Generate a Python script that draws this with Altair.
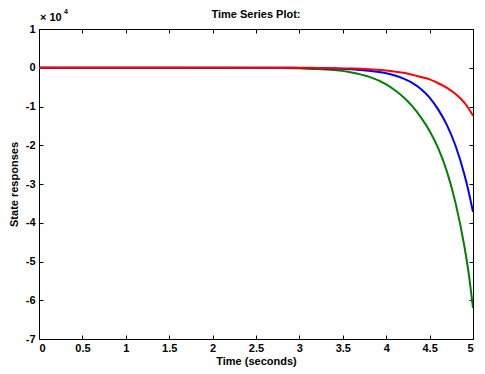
import altair as alt
import pandas as pd

# time points (seconds)
t = [0, 2.8, 3.0, 3.2, 3.4, 3.6, 3.8, 4.0, 4.1, 4.2, 4.3, 4.4, 4.5, 4.6, 4.7, 4.8, 4.9, 4.95, 5.0]
# state responses, in units of 1e4
green = [0, -0.005, -0.015, -0.03, -0.06, -0.12, -0.23, -0.43, -0.58, -0.76, -0.99, -1.28, -1.63, -2.08, -2.68, -3.50, -4.60, -5.30, -6.20]
blue = [0, 0, -0.005, -0.01, -0.02, -0.04, -0.08, -0.14, -0.20, -0.28, -0.39, -0.55, -0.77, -1.08, -1.48, -2.02, -2.75, -3.20, -3.72]
red = [0, 0, 0, -0.005, -0.01, -0.02, -0.04, -0.07, -0.10, -0.13, -0.18, -0.24, -0.30, -0.40, -0.52, -0.68, -0.90, -1.05, -1.24]

x_ticks = [0, 0.5, 1, 1.5, 2, 2.5, 3, 3.5, 4, 4.5, 5]
y_ticks = [1, 0, -1, -2, -3, -4, -5, -6, -7]

series = [("1_green", green), ("2_blue", blue), ("3_red", red)]
rows = []
for name, vals in series:
    for ti, v in zip(t, vals):
        rows.append({"t": ti, "v": v, "s": name})
df = pd.DataFrame(rows)

FONT = "Liberation Sans"
W, H = 434, 310
xs = alt.Scale(domain=[0, 5], nice=False, zero=False)
ys = alt.Scale(domain=[-7, 1], nice=False, zero=False)

lines = alt.Chart(df).mark_line(strokeWidth=2, clip=True, interpolate="monotone").encode(
    x=alt.X("t:Q", scale=xs, axis=alt.Axis(
        orient="bottom", values=x_ticks, offset=-4, tickSize=4, domain=False,
        labelPadding=3, title="Time (seconds)", titlePadding=2,
        labelExpr="'' + datum.value", grid=False)),
    y=alt.Y("v:Q", scale=ys, axis=alt.Axis(
        orient="left", values=y_ticks, offset=-4, tickSize=4, domain=False,
        labelPadding=4, title="State responses", titlePadding=6,
        labelExpr="'' + datum.value", grid=False)),
    color=alt.Color("s:N", scale=alt.Scale(domain=["1_green", "2_blue", "3_red"],
                                           range=["#008000", "#0000ff", "#ff0000"]), legend=None),
)

ticks2 = alt.Chart(df).mark_line(opacity=0).encode(
    x=alt.X("t:Q", scale=xs, axis=alt.Axis(
        orient="top", values=x_ticks, offset=-4, tickSize=4, domain=False,
        labels=False, title=None, grid=False)),
    y=alt.Y("v:Q", scale=ys, axis=alt.Axis(
        orient="right", values=y_ticks, offset=-4, tickSize=4, domain=False,
        labels=False, title=None, grid=False)),
    detail="s:N",
)

title = alt.Chart(pd.DataFrame({"txt": ["Time Series Plot:"]})).mark_text(
    align="center", baseline="middle", font=FONT, fontSize=11, fontWeight="bold", color="black"
).encode(x=alt.value(W / 2), y=alt.value(-14), text="txt:N")

mult = alt.Chart(pd.DataFrame({"txt": ["× 10"]})).mark_text(
    align="left", baseline="alphabetic", font=FONT, fontSize=11, fontWeight="bold", color="black"
).encode(x=alt.value(1), y=alt.value(-8), text="txt:N")

expo = alt.Chart(pd.DataFrame({"txt": ["4"]})).mark_text(
    align="left", baseline="alphabetic", font=FONT, fontSize=7, fontWeight="bold", color="black"
).encode(x=alt.value(25), y=alt.value(-15), text="txt:N")

chart = alt.layer(lines, ticks2, title, mult, expo).resolve_axis(
    x="independent", y="independent"
).properties(
    width=W, height=H,
    autosize=alt.AutoSizeParams(type="none"),
    padding={"left": 31, "top": 21, "right": 4, "bottom": 30},
).configure_view(
    stroke="black", strokeWidth=1
).configure_axis(
    labelFont=FONT, labelFontSize=11, labelFontWeight="bold", labelColor="black",
    titleFont=FONT, titleFontSize=11, titleFontWeight="bold", titleColor="black",
    tickColor="black", tickWidth=1,
)

chart.save("out.html", embed_options={"renderer": "svg", "actions": False})
